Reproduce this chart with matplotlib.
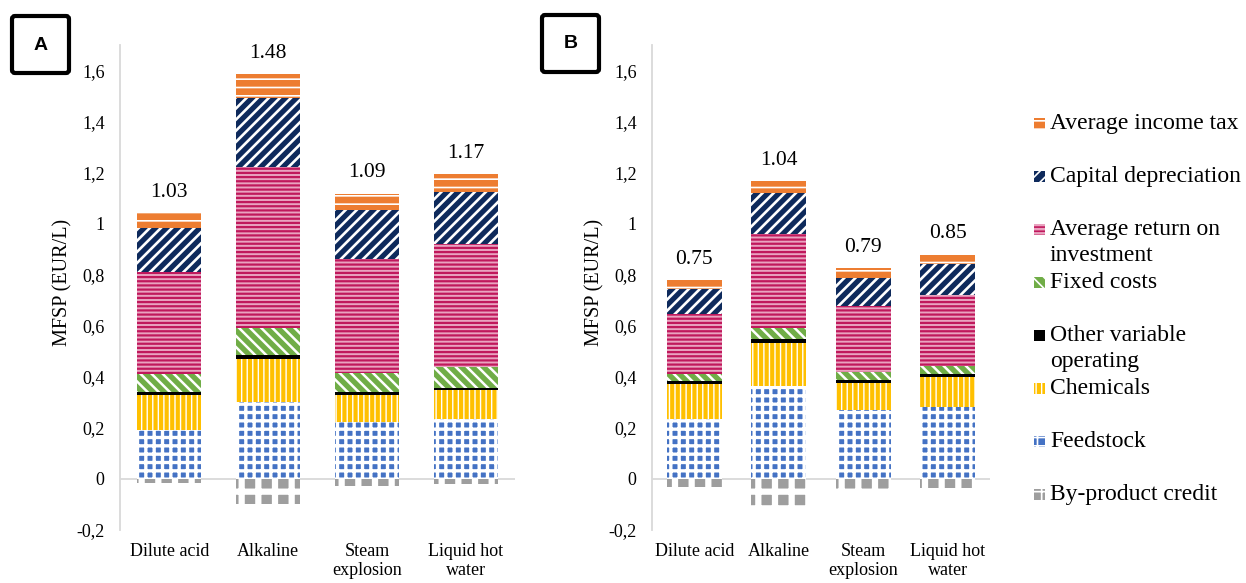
import matplotlib
matplotlib.use("Agg")
import matplotlib.pyplot as plt
from matplotlib.patches import Rectangle, FancyBboxPatch
from matplotlib.ticker import FuncFormatter

plt.rcParams['font.family'] = ['Liberation Serif', 'DejaVu Serif']

# Data (EUR/L)
categories = ["Dilute acid", "Alkaline", "Steam\nexplosion", "Liquid hot\nwater"]

# Panel A
feedstock_a = [0.19, 0.30, 0.223, 0.233]
chemicals_a = [0.14, 0.17, 0.106, 0.114]
other_var_a = [0.01, 0.015, 0.01, 0.01]
fixed_a = [0.07, 0.107, 0.078, 0.083]
roi_a = [0.40, 0.63, 0.444, 0.479]
capdep_a = [0.175, 0.27, 0.191, 0.206]
tax_a = [0.055, 0.093, 0.066, 0.068]
byprod_a = [-0.017, -0.10, -0.026, -0.02]
total_a = [1.03, 1.48, 1.09, 1.17]

# Panel B
feedstock_b = [0.235, 0.364, 0.27, 0.28]
chemicals_b = [0.137, 0.167, 0.107, 0.118]
other_var_b = [0.011, 0.017, 0.01, 0.012]
fixed_b = [0.03, 0.045, 0.033, 0.033]
roi_b = [0.235, 0.365, 0.257, 0.277]
capdep_b = [0.098, 0.161, 0.112, 0.124]
tax_b = [0.033, 0.047, 0.038, 0.036]
byprod_b = [-0.03, -0.121, -0.04, -0.035]
total_b = [0.75, 1.04, 0.79, 0.85]

yticks = [-0.2, 0, 0.2, 0.4, 0.6, 0.8, 1.0, 1.2, 1.4, 1.6]

# stacking order bottom -> top, with (face, hatch colour, hatch, hatch lw)
series_names = ["Feedstock", "Chemicals", "Other variable\noperating", "Fixed costs",
                "Average return on\ninvestment", "Capital depreciation", "Average income tax"]
styles = {
    "Feedstock": ("#4472C4", "white", "++", 2.4),
    "Chemicals": ("#FFC000", "white", "|||", 1.0),
    "Other variable\noperating": ("black", "white", "", 1.0),
    "Fixed costs": ("#70AD47", "white", "\\\\\\", 1.8),
    "Average return on\ninvestment": ("#E9A3C0", "#C0185C", "----", 1.6),
    "Capital depreciation": ("#0E2A5C", "white", "///", 1.9),
    "Average income tax": ("#ED7D31", "white", "--", 1.2),
    "By-product credit": ("#9E9E9E", "white", "+", 4.5),
}


def styled_bar(ax, x, h, bottom, name, width):
    face, hc, hatch, hlw = styles[name]
    with plt.rc_context({'hatch.linewidth': hlw}):
        bars = ax.bar(x, h, width, bottom=bottom, color=face, edgecolor=hc,
                      hatch=hatch, linewidth=0, zorder=2)
    for b in bars:
        if hasattr(b, "set_hatch_linewidth"):
            b.set_hatch_linewidth(hlw)
    return bars


def draw_panel(ax, series, byprod, totals, width_px):
    x = list(range(len(categories)))
    w = 0.65
    bottom = [0.0] * len(x)
    for name, vals in zip(series_names, series):
        styled_bar(ax, x, vals, bottom, name, w)
        bottom = [b + v for b, v in zip(bottom, vals)]
    styled_bar(ax, x, byprod, [0.0] * len(x), "By-product credit", w)
    for xi, top, t in zip(x, bottom, totals):
        ax.annotate(f"{t:.2f}", (xi, top), xytext=(0, 8), textcoords="offset points",
                    ha="center", va="bottom", fontsize=15.5)
    ax.axhline(0, color="#D9D9D9", lw=1.3, zorder=1)
    ax.set_xlim(-0.5, 3.5)
    ax.set_ylim(-0.2, 1.70)
    ax.set_yticks(yticks)
    ax.yaxis.set_major_formatter(FuncFormatter(lambda v, p: f"{v:g}".replace(".", ",")))
    ax.set_xticks(x)
    ax.set_xticklabels(categories, fontsize=13, linespacing=1.2)
    ax.tick_params(axis="y", length=0, pad=11, labelsize=13)
    ax.tick_params(axis="x", length=0, pad=9)
    for s in ["top", "right", "bottom"]:
        ax.spines[s].set_visible(False)
    ax.spines["left"].set_color("#D9D9D9")
    ax.spines["left"].set_linewidth(1.3)
    ax.set_ylabel("MFSP (EUR/L)", fontsize=14.5)
    ax.yaxis.set_label_coords(-48 / width_px, 0.51)


W, H = 1246, 583
fig = plt.figure(figsize=(W / 100, H / 100), dpi=100)

ax_a = fig.add_axes([120 / W, 1 - 530 / H, 395 / W, 485 / H])
ax_b = fig.add_axes([652 / W, 1 - 530 / H, 338 / W, 485 / H])

draw_panel(ax_a, [feedstock_a, chemicals_a, other_var_a, fixed_a, roi_a, capdep_a, tax_a],
           byprod_a, total_a, 395)
draw_panel(ax_b, [feedstock_b, chemicals_b, other_var_b, fixed_b, roi_b, capdep_b, tax_b],
           byprod_b, total_b, 338)

# overlay in pixel coords for panel boxes and legend
ov = fig.add_axes([0, 0, 1, 1], facecolor="none")
ov.set_xlim(0, W)
ov.set_ylim(H, 0)
ov.axis("off")

for label, x0, y0 in [("A", 12, 16), ("B", 542, 15)]:
    ov.add_patch(FancyBboxPatch((x0, y0), 57, 57, boxstyle="round,pad=0,rounding_size=3",
                                fill=False, edgecolor="black", linewidth=3))
    ov.text(x0 + 28.5, y0 + 29, label, ha="center", va="center", fontsize=14,
            fontweight="bold", family="Liberation Sans")

legend_order = ["Average income tax", "Capital depreciation", "Average return on\ninvestment",
                "Fixed costs", "Other variable\noperating", "Chemicals", "Feedstock",
                "By-product credit"]
for i, name in enumerate(legend_order):
    yc = 123 + 53.1 * i
    face, hc, hatch, hlw = styles[name]
    with plt.rc_context({'hatch.linewidth': min(hlw, 1.2)}):
        p = Rectangle((1034, yc - 5.5), 11, 11, facecolor=face, edgecolor=hc,
                      hatch=hatch, linewidth=0)
    ov.add_patch(p)
    for j, line in enumerate(name.split("\n")):
        ov.text(1050, yc + 26.5 * j, line, ha="left", va="center", fontsize=17)

fig.savefig("out.png", dpi=100)
